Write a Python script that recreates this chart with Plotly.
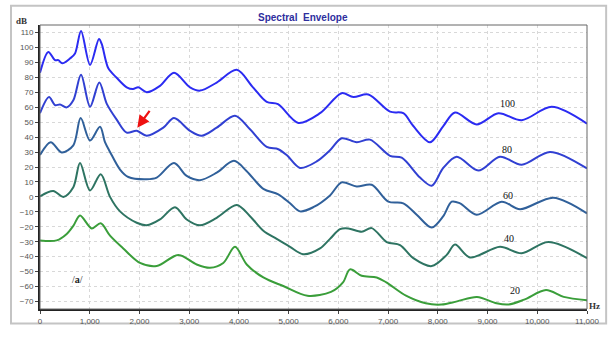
import plotly.graph_objects as go

# Spectral envelopes of /a/ at five vocal effort levels (frequency in Hz, level in dB)
hz_100 = [0, 167, 302, 368, 448, 603, 704, 825, 1006, 1186, 1241, 1374, 1542, 1744, 1870, 1977, 2146,
          2413, 2695, 3017, 3218, 3553, 3956, 4283, 4559, 4786, 5194, 5631, 6067, 6301, 6602, 7039,
          7306, 7507, 7843, 8110, 8346, 8782, 9217, 9687, 10291, 11000]
db_100 = [83, 97, 91.5, 91.5, 89.4, 92.6, 95.9, 111, 88.3, 105.6, 102.3, 86, 79.7, 73.3, 72.1, 73.3, 70,
          74.3, 83, 73.3, 71.1, 76.5, 85, 73.3, 63.5, 62, 49.5, 56, 69.4, 66.8, 68.5, 57,
          56, 47.4, 36.6, 47.4, 56.4, 48.5, 56, 51.3, 60.3, 49]

hz_80 = [0, 181, 302, 402, 537, 670, 825, 1006, 1193, 1341, 1542, 1744, 1945, 2146, 2480, 2695, 3017,
         3252, 3553, 3921, 4223, 4559, 4792, 4961, 5229, 5564, 5832, 6067, 6369, 6636, 7039, 7274,
         7642, 7877, 8110, 8380, 8814, 9251, 9687, 10256, 11000]
db_80 = [56, 66.8, 61.4, 61.8, 59.9, 64.6, 81.8, 60.3, 76.5, 62.4, 51.7, 43, 44.2, 40.9, 46.3, 52.7, 44.2,
         40.9, 46.3, 54.3, 45.2, 33.4, 31.9, 28, 19.4, 23.7, 31.2, 39.2, 36.6, 38.3, 27.5, 26.2,
         12.9, 7.5, 19.4, 26.9, 17.6, 26.9, 21.5, 30.1, 19]

hz_60 = [0, 215, 436, 670, 818, 1006, 1207, 1307, 1408, 1609, 1776, 2146, 2347, 2695, 2950, 3218, 3553,
         3901, 4157, 4491, 4792, 5028, 5229, 5496, 5832, 6067, 6369, 6670, 7004, 7306, 7575, 7877,
         8110, 8279, 8446, 8782, 9285, 9653, 10323, 11000]
db_60 = [28, 36.6, 29.7, 34.5, 52.7, 37.7, 46.9, 36.6, 30.1, 18.3, 13.3, 11.8, 12.9, 22.6, 14, 11.2, 16.2,
         24.1, 17.2, 5.4, 1.7, -4.3, -9.7, -6.9, 1.0, 9.7, 6.9, 8.1, -3.2, -4.3, -11.9, -20.5,
         -12.9, -3.2, -4.3, -11.9, -3.2, -8.2, -0.5, -11]

hz_40 = [0, 268, 469, 670, 805, 1006, 1221, 1408, 1609, 1945, 2146, 2413, 2715, 2950, 3218, 3553, 3956,
         4223, 4491, 4760, 5028, 5295, 5631, 5832, 6033, 6200, 6469, 6670, 6972, 7240, 7507, 7877,
         8179, 8346, 8647, 9251, 9687, 10222, 11000]
db_40 = [0.4, 3.9, 0, 6.5, 22.6, 4.3, 15.1, 0, -9.7, -17.3, -19, -15.1, -6.9, -15.1, -19, -14, -5.4,
         -12.9, -22.6, -28.1, -33.4, -38.4, -34.5, -28.1, -21.6, -21.1, -23.3, -20.9, -30.2, -32.3, -41, -46.3,
         -38.8, -31.9, -40.5, -33.4, -37.7, -30.2, -41]

hz_20 = [0, 336, 537, 670, 805, 1040, 1221, 1408, 1675, 2011, 2347, 2781, 3151, 3419, 3686, 3921, 4157,
         4491, 4903, 5378, 5852, 6093, 6234, 6469, 6771, 6964, 7360, 7757, 8074, 8386, 8788, 9182,
         9422, 9737, 10176, 10532, 11000]
db_20 = [-29.1, -29.1, -24.8, -19.4, -12.5, -21.1, -17.7, -25.9, -34.5, -44.2, -46.3, -38.8, -45.2, -47.4, -44.2, -33.4, -45.2,
         -53.9, -59.8, -66.1, -63.6, -57.2, -48.5, -52.8, -53.9, -57.2, -66.1, -71.2, -72, -69.9, -66.9, -71.2,
         -72, -68.7, -62.3, -66.9, -69.2]

series = [
    ("100", hz_100, db_100, "#2b2bf2"),
    ("80", hz_80, db_80, "#3140d2"),
    ("60", hz_60, db_60, "#30609a"),
    ("40", hz_40, db_40, "#2e7462"),
    ("20", hz_20, db_20, "#3a9e3a"),
]

# Curve label positions (Hz, dB)
label_hz = [9398, 9385, 9405, 9438, 9552]
label_db = [62.4, 31.4, 1.0, -28.1, -62.5]

x_ticks = list(range(0, 11001, 1000))
y_ticks = list(range(-70, 111, 10))

fig = go.Figure()
for name, xs, ys, color in series:
    fig.add_trace(go.Scatter(
        x=xs, y=ys, mode="lines", name=name,
        line=dict(color=color, width=2, shape="spline", smoothing=0.9),
        hoverinfo="skip", showlegend=False,
    ))

annotations = []
for (name, _, _, _), lx, ly in zip(series, label_hz, label_db):
    annotations.append(dict(
        x=lx, y=ly, xref="x", yref="y", text=name, showarrow=False,
        font=dict(family="Liberation Serif", size=10, color="#111111"),
    ))

annotations += [
    dict(x=744, y=-55.3, xref="x", yref="y", text="/<b>a</b>/", showarrow=False,
         font=dict(family="Liberation Serif", size=10, color="#222222")),
    # red arrow pointing at the small bump near 2 kHz
    dict(x=1957, y=46.3, xref="x", yref="y", ax=2226, ay=58.6, axref="x", ayref="y",
         text="", showarrow=True, arrowhead=2, arrowsize=1.1, arrowwidth=2.2, arrowcolor="#ee1111"),
    dict(x=0.48, y=1.0, xref="paper", yref="paper", yshift=8, yanchor="middle",
         text="<b>Spectral  Envelope</b>", showarrow=False,
         font=dict(family="Liberation Sans", size=10, color="#2e2e9e")),
    dict(x=-0.033, y=1.0, xref="paper", yref="paper", yshift=4, xanchor="center", yanchor="middle",
         text="<b>dB</b>", showarrow=False,
         font=dict(family="Liberation Serif", size=9, color="#333333")),
    dict(x=1.0, y=0.0, xref="paper", yref="paper", xanchor="left", yanchor="middle", xshift=0, yshift=3,
         text="<b>Hz</b>", showarrow=False,
         font=dict(family="Liberation Serif", size=9, color="#333333")),
]

shapes = [
    # outer panel frame
    dict(type="rect", xref="paper", yref="paper", x0=-0.053, x1=1.035, y0=-0.051, y1=1.068,
         line=dict(color="#c4c4c4", width=2), layer="below"),
    # plot border (top and right)
    dict(type="rect", xref="paper", yref="paper", x0=0, x1=1, y0=0, y1=1,
         line=dict(color="#666666", width=1), layer="above"),
]

fig.update_layout(
    width=615, height=338,
    margin=dict(l=40, r=28, t=25, b=19),
    paper_bgcolor="white", plot_bgcolor="white",
    annotations=annotations, shapes=shapes,
    font=dict(family="Liberation Sans", size=8, color="#555555"),
)
fig.update_xaxes(
    range=[0, 11000], tickvals=x_ticks, tickformat=",d",
    showgrid=True, gridcolor="#d8d8d8", griddash="dot", gridwidth=1,
    showline=True, linecolor="#222222", linewidth=2,
    ticks="outside", ticklen=3, tickcolor="#444444",
    tickfont=dict(family="Liberation Sans", size=8, color="#555555"),
    zeroline=False,
)
fig.update_yaxes(
    range=[-75, 115], tickvals=y_ticks,
    showgrid=True, gridcolor="#d8d8d8", griddash="dot", gridwidth=1,
    showline=True, linecolor="#222222", linewidth=2,
    ticks="outside", ticklen=3, tickcolor="#444444",
    tickfont=dict(family="Liberation Sans", size=8, color="#555555"),
    zeroline=False,
)

fig.write_html("out.html")
